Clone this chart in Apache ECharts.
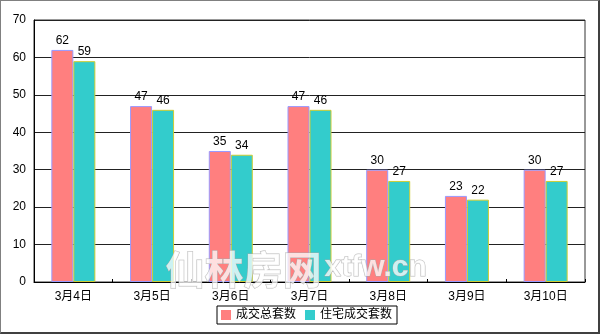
<!DOCTYPE html>
<html>
<head>
<meta charset="utf-8">
<script src="https://cdn.jsdelivr.net/npm/echarts@6/dist/echarts.min.js"></script>
<style>
html,body{margin:0;padding:0;background:#fff;}
#wrap{position:relative;width:600px;height:334px;}
#c{width:600px;height:334px;}
#frame{position:absolute;left:0;top:0;width:600px;height:334px;box-sizing:border-box;border-left:1px solid #808080;border-top:1px solid #808080;border-right:2px solid #404040;border-bottom:2px solid #404040;pointer-events:none;}
</style>
</head>
<body>
<div id="wrap"><div id="c"></div><div id="frame"></div></div>
<script>
const categories = ['3月4日','3月5日','3月6日','3月7日','3月8日','3月9日','3月10日'];
const totalDeals = [62,47,35,47,30,23,30];
const residentialDeals = [59,46,34,46,27,22,27];
const seriesNames = ['成交总套数','住宅成交套数'];
const yTicks = {min:0, max:70, interval:10};

const font = '"Liberation Sans","Noto Sans CJK SC",sans-serif';
const chart = echarts.init(document.getElementById('c'));
chart.setOption({
  animation:false,
  backgroundColor:'#fff',
  grid:{left:34,right:15,top:20,bottom:52,show:true,borderColor:'#333',borderWidth:1,backgroundColor:'#fff'},
  legend:{
    left:217, top:306, orient:'horizontal',
    data:seriesNames, icon:'rect', itemWidth:10, itemHeight:10, itemGap:9,
    itemStyle:{borderWidth:0},
    borderColor:'#000', borderWidth:1, padding:[3,5,3,4],
    textStyle:{color:'#000',fontSize:12,fontFamily:font}
  },
  xAxis:{
    type:'category', data:categories,
    axisLine:{lineStyle:{color:'#000',width:1}},
    axisTick:{show:true,inside:true,length:3,lineStyle:{color:'#000'}},
    axisLabel:{color:'#000',fontSize:12,margin:9,fontFamily:font}
  },
  yAxis:{
    type:'value', min:yTicks.min, max:yTicks.max, interval:yTicks.interval,
    axisLine:{show:true,lineStyle:{color:'#000'}},
    axisTick:{show:false},
    axisLabel:{color:'#000',fontSize:12,margin:8,fontFamily:font},
    splitLine:{lineStyle:{color:'#222',width:1}}
  },
  series:[
    {name:seriesNames[0],type:'bar',data:totalDeals,barWidth:22,barGap:'0%',
     itemStyle:{color:'#FF7F7F',borderColor:'#9999FF',borderWidth:1},
     label:{show:true,position:'top',distance:3,color:'#000',fontSize:12,fontFamily:font}},
    {name:seriesNames[1],type:'bar',data:residentialDeals,barWidth:22,
     itemStyle:{color:'#33CCCC',borderColor:'#CCCC33',borderWidth:1},
     label:{show:true,position:'top',distance:3,color:'#000',fontSize:12,fontFamily:font}}
  ],
  graphic:[
    {type:'text',left:165,top:249,z:100,silent:true,
     style:{text:'仙林房网',font:'bold 39px "Noto Sans CJK SC"',fill:'rgba(255,255,255,0.75)',stroke:'rgba(170,170,170,0.8)',lineWidth:1}},
    {type:'text',left:324,top:252,z:100,silent:true,
     style:{text:'xtfw.cn',font:'bold 30px "Liberation Sans"',fill:'rgba(255,255,255,0.75)',stroke:'rgba(170,170,170,0.8)',lineWidth:1}}
  ]
});
</script>
</body>
</html>
